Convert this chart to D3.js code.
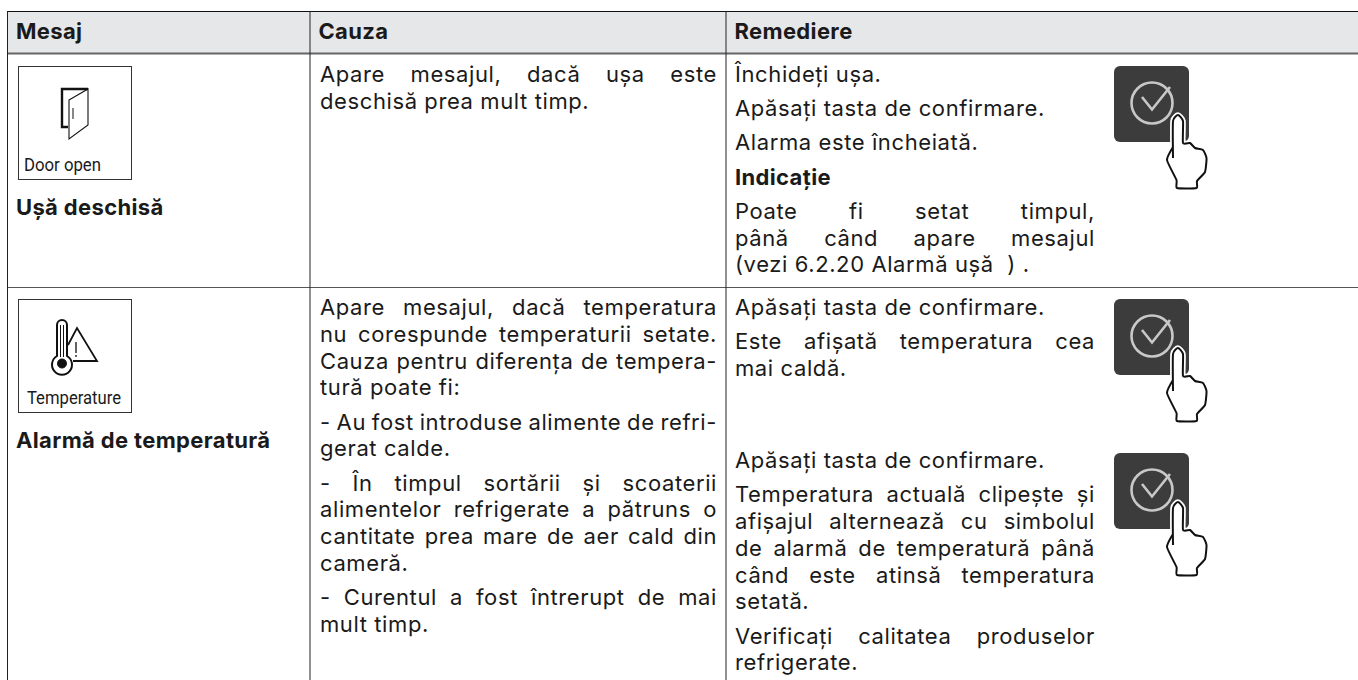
<!DOCTYPE html>
<html>
<head>
<meta charset="utf-8">
<script src="https://cdn.jsdelivr.net/npm/d3@7"></script>
<style>
  html, body { margin: 0; background: #fff; }
  text { font-family: Inter, Roboto, sans-serif; fill: #1a1a1a; letter-spacing: 0.6px; }
  text.strong { letter-spacing: 0.35px; }
  .cond { font-family: Roboto, sans-serif; letter-spacing: 0; }
</style>
</head>
<body>
<svg id="chart" width="1358" height="680"></svg>
<script>
const columns = ["Mesaj", "Cauza", "Remediere"];
const messages = ["Ușă deschisă", "Alarmă de temperatură"];
const displayLabels = ["Door open", "Temperature"];

// each paragraph is a list of lines, last line of a paragraph stays left aligned
const causeRow1 = [["Apare mesajul, dacă ușa este", "deschisă prea mult timp."]];
const causeRow2 = [
  ["Apare mesajul, dacă temperatura", "nu corespunde temperaturii setate.", "Cauza pentru diferența de tempera-", "tură poate fi:"],
  ["- Au fost introduse alimente de refri-", "gerat calde."],
  ["- În timpul sortării și scoaterii", "alimentelor refrigerate a pătruns o", "cantitate prea mare de aer cald din", "cameră."],
  ["- Curentul a fost întrerupt de mai", "mult timp."]
];
const fixRow1 = [
  ["Închideți ușa."],
  ["Apăsați tasta de confirmare."],
  ["Alarma este încheiată."],
  ["*Indicație"],
  ["Poate fi setat timpul,", "până când apare mesajul", "(vezi 6.2.20 Alarmă ușă  ) ."]
];
const fixRow2a = [
  ["Apăsați tasta de confirmare."],
  ["Este afișată temperatura cea", "mai caldă."]
];
const fixRow2b = [
  ["Apăsați tasta de confirmare."],
  ["Temperatura actuală clipește și", "afișajul alternează cu simbolul", "de alarmă de temperatură până", "când este atinsă temperatura", "setată."],
  ["Verificați calitatea produselor", "refrigerate."]
];
const handOutline = [[59, 92], [59, 55], [64, 49], [69, 55], [69, 77], [76, 77], [81, 82], [89, 84], [92.5, 92], [91, 106], [83, 115], [82.5, 122], [63, 122], [62.5, 114], [53, 94], [59, 81]];

const W = 1358, H = 680;
const fontSize = 22, lineH = 26.8, paraGap = 7.4;
const svg = d3.select("#chart");

const colX = d3.scaleOrdinal().domain(columns).range([7.5, 310, 726]);
const rowY = d3.scaleOrdinal().domain(["head", "r1", "r2"]).range([12, 54, 287]);
const lineC = "#555";

// header band and rules
svg.append("rect").attr("x", colX("Mesaj")).attr("y", rowY("head"))
  .attr("width", W - colX("Mesaj")).attr("height", rowY("r1") - rowY("head")).attr("fill", "#e6e7e8");
const hline = (y, c, w) => svg.append("line").attr("x1", colX("Mesaj")).attr("x2", W)
  .attr("y1", y).attr("y2", y).attr("stroke", c).attr("stroke-width", w);
hline(rowY("head") - 0.5, "#111", 1);
hline(rowY("r1") - 0.5, "#666", 2);
hline(rowY("r2") + 0.5, lineC, 1);
svg.selectAll(".vline").data(columns).enter().append("line").attr("class", "vline")
  .attr("x1", (d) => colX(d)).attr("x2", (d) => colX(d))
  .attr("y1", rowY("head") - 1).attr("y2", H)
  .attr("stroke", "#222").attr("stroke-width", 1);

svg.selectAll(".head").data(columns).enter().append("text").attr("class", "head strong")
  .attr("x", (d) => colX(d) + 8.5).attr("y", 39)
  .attr("font-size", fontSize).attr("font-weight", 700).text((d) => d);

// writes paragraphs, stretches every line but the last of a paragraph
function block(paragraphs, x, right, top, justify) {
  let y = top;
  paragraphs.forEach((para) => {
    para.forEach((line, i) => {
      const bold = line[0] === "*";
      const t = svg.append("text").attr("x", x).attr("y", y)
        .attr("class", bold ? "strong" : null)
        .attr("font-size", fontSize).attr("font-weight", bold ? 700 : 400)
        .style("white-space", "pre")
        .text(bold ? line.slice(1) : line);
      if (justify && i < para.length - 1) {
        const gaps = line.split(" ").length - 1;
        t.attr("word-spacing", (right - x - t.node().getComputedTextLength()) / gaps);
      }
      y += lineH;
    });
    y += paraGap;
  });
}

block(causeRow1, colX("Cauza") + 10, 717, 82, true);
block(causeRow2, colX("Cauza") + 10, 717, 315, true);
block(fixRow1, colX("Remediere") + 9, 1095, 82, true);
block(fixRow2a, colX("Remediere") + 9, 1095, 315, true);
block(fixRow2b, colX("Remediere") + 9, 1095, 468, true);

// icon boxes
const boxTop = [66, 299];
const icons = svg.selectAll(".icon").data(messages).enter().append("g").attr("class", "icon")
  .attr("transform", (d, i) => `translate(18,${boxTop[i]})`);
icons.append("rect").attr("x", 0.5).attr("y", 0.5).attr("width", 113).attr("height", 113)
  .attr("fill", "#fff").attr("stroke", "#333");
icons.append("text").attr("class", "cond").attr("x", (d, i) => (i ? 9 : 6)).attr("y", 104.5)
  .attr("font-size", 17.5).attr("textLength", (d, i) => (i ? 94 : 77))
  .attr("lengthAdjust", "spacingAndGlyphs").text((d, i) => displayLabels[i]);
icons.append("text").attr("class", "strong").attr("x", -2).attr("y", 149)
  .attr("font-size", fontSize).attr("font-weight", 700).text((d) => d);

// door glyph
const door = d3.select(icons.nodes()[0]).append("g").attr("fill", "none").attr("stroke", "#111");
door.append("path").attr("d", "M50 61H44V23H70").attr("stroke-width", 2.4);
door.append("path").attr("d", "M51 34L70 23V59L51 73Z").attr("stroke-width", 1.1);
door.append("path").attr("d", "M55 42V53").attr("stroke-width", 1);

// thermometer + warning glyph
const therm = d3.select(icons.nodes()[1]).append("g").attr("fill", "none").attr("stroke", "#111");
therm.append("path").attr("stroke-width", 2)
  .attr("d", "M39 26a5 5 0 0 1 10 0V57a10 10 0 1 1 -10 0Z");
therm.append("path").attr("stroke-width", 1).attr("d", "M42.5 26V58M45.5 26V58");
therm.append("circle").attr("cx", 44).attr("cy", 64.5).attr("r", 4.5).attr("fill", "#111");
therm.append("path").attr("stroke-width", 1.8).attr("d", "M50 46L59 29L79 62H55");
therm.append("path").attr("stroke-width", 1.3).attr("d", "M58 43V54M58 56V58");

// confirm key with hand
const keyTop = [66, 299, 453];
const keys = svg.selectAll(".key").data(keyTop).enter().append("g").attr("class", "key")
  .attr("transform", (d) => `translate(1114,${d})`);
keys.append("rect").attr("width", 75).attr("height", 76).attr("rx", 6).attr("fill", "#3c3c3c");
keys.append("circle").attr("cx", 38).attr("cy", 37).attr("r", 20.5)
  .attr("fill", "none").attr("stroke", "#c8c8c8").attr("stroke-width", 2.6);
keys.append("path").attr("d", "M28 31L38 43.5L56 21").attr("fill", "none")
  .attr("stroke", "#c8c8c8").attr("stroke-width", 2.6);
const handPath = d3.line().curve(d3.curveCardinal.tension(0.5))(handOutline);
keys.append("path").attr("d", handPath).attr("fill", "#fff").attr("stroke", "#fff").attr("stroke-width", 5.5);
keys.append("path").attr("d", handPath).attr("fill", "#fff").attr("stroke", "#111").attr("stroke-width", 2).attr("stroke-linejoin", "round");
</script>
</body>
</html>
